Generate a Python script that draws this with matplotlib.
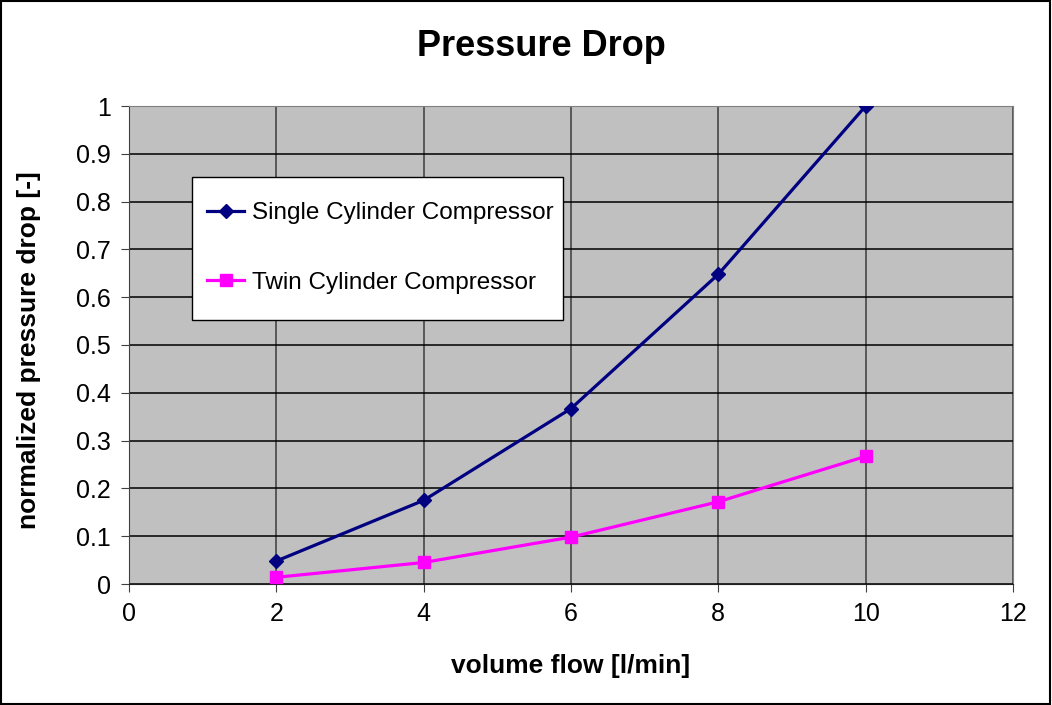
import matplotlib
matplotlib.use("Agg")
import matplotlib.pyplot as plt

plt.rcParams["font.family"] = ["Liberation Sans", "DejaVu Sans"]

flow = [2, 4, 6, 8, 10]
single_cyl = [0.048, 0.175, 0.367, 0.648, 1.0]
twin_cyl = [0.014, 0.045, 0.098, 0.172, 0.267]
x_ticks = [0, 2, 4, 6, 8, 10, 12]
y_ticks = [0, 0.1, 0.2, 0.3, 0.4, 0.5, 0.6, 0.7, 0.8, 0.9, 1]
y_tick_labels = ["0", "0.1", "0.2", "0.3", "0.4", "0.5", "0.6", "0.7", "0.8", "0.9", "1"]

W, H = 1052, 705
fig = plt.figure(figsize=(W / 100, H / 100), dpi=100)
ax = fig.add_axes([129 / W, 1 - 584 / H, 884 / W, 478 / H])
ax.set_facecolor("#C0C0C0")

ax.plot(flow, single_cyl, color="#000080", lw=2.3, marker="D", ms=7,
        label="Single Cylinder Compressor", zorder=3)
ax.plot(flow, twin_cyl, color="#FF00FF", lw=2.3, marker="s", ms=9,
        label="Twin Cylinder Compressor", zorder=3)

ax.set_xlim(0, 12)
ax.set_ylim(0, 1)
ax.set_xticks(x_ticks)
ax.set_yticks(y_ticks)
ax.set_yticklabels(y_tick_labels)
ax.tick_params(labelsize=18, direction="out", length=6, color="#404040", pad=7)
ax.grid(axis="x", color="#505050", lw=1.3)
ax.grid(axis="y", color="black", lw=1.1)
ax.set_axisbelow(True)
for s in ["top", "right"]:
    ax.spines[s].set_color("#808080")
ax.spines["left"].set_color("#404040")
ax.spines["bottom"].set_color("#202020")

ax.set_xlabel("volume flow [l/min]", fontsize=19, fontweight="bold", labelpad=20)
ax.set_ylabel("normalized pressure drop [-]", fontsize=19, fontweight="bold")
ax.yaxis.set_label_coords((41 - 129) / 884, 0.49)
fig.text(541 / W, 1 - 47 / H, "Pressure Drop", fontsize=26, fontweight="bold",
         ha="center", va="center")

# legend box drawn by hand, entries centred in it
bx0, by0, bx1, by1 = 192, 177, 563, 320
ax.add_patch(plt.Rectangle(((bx0 - 129) / 884, (584 - by1) / 478),
                           (bx1 - bx0) / 884, (by1 - by0) / 478,
                           transform=ax.transAxes, facecolor="white",
                           edgecolor="black", lw=1, zorder=4))
leg = ax.legend(loc="center", bbox_to_anchor=((380 - 129) / 884, (584 - 248) / 478),
                fontsize=17.5, frameon=False, borderpad=0, labelspacing=1.95,
                handlelength=1.55, handletextpad=0.3, borderaxespad=0)
leg.set_zorder(5)

fig.patches.append(plt.Rectangle((0.001, 0.001), 0.997, 0.997, transform=fig.transFigure,
                                 fill=False, edgecolor="black", lw=1.5))

fig.savefig("out.png", dpi=100)
